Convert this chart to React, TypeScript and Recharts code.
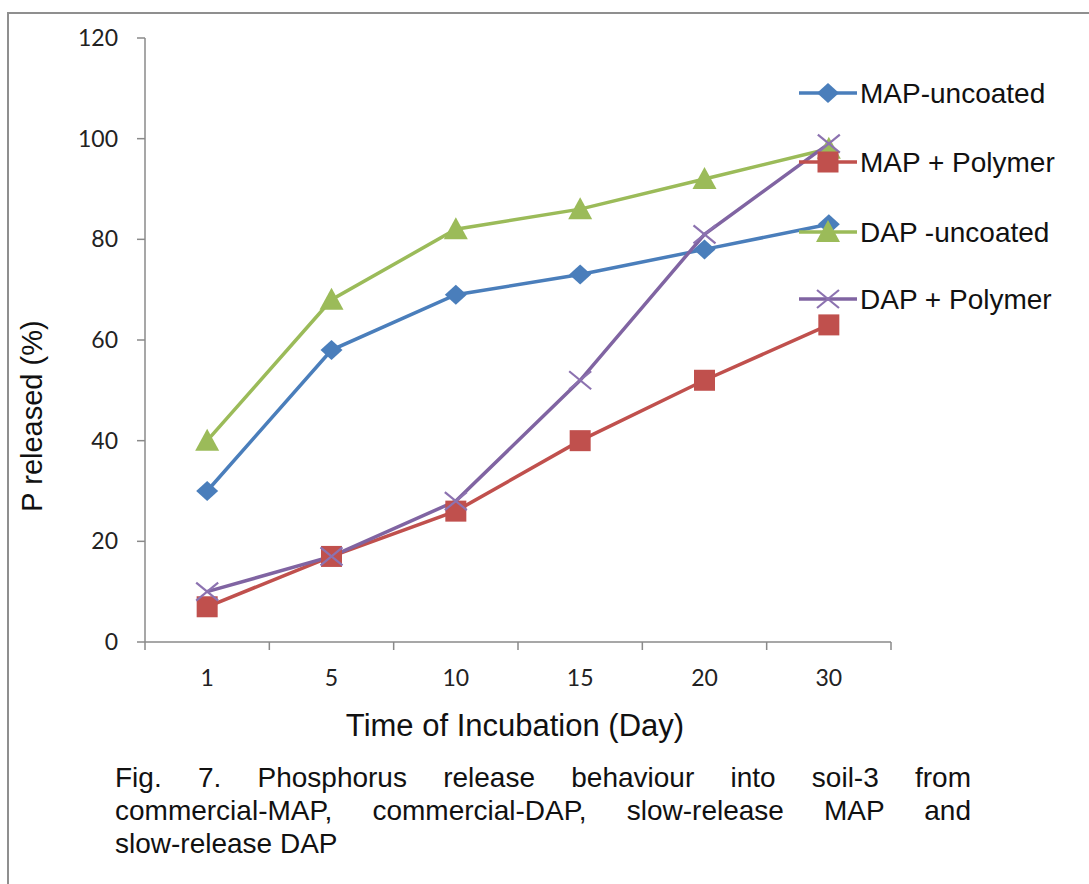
import React from 'react';
import { LineChart, Line, XAxis, YAxis } from 'recharts';

// ---- data ----
const days = ['1', '5', '10', '15', '20', '30'];
const mapUncoated = [30, 58, 69, 73, 78, 83];
const mapPolymer = [7, 17, 26, 40, 52, 63];
const dapUncoated = [40, 68, 82, 86, 92, 98];
const dapPolymer = [10, 17, 28, 52, 81, 99];
const yTicks = [0, 20, 40, 60, 80, 100, 120];
const seriesNames = ['MAP-uncoated', 'MAP + Polymer', 'DAP -uncoated', 'DAP + Polymer'];
const xTitle = 'Time of Incubation (Day)';
const yTitle = 'P released (%)';
const captionLines = [
  'Fig. 7. Phosphorus release behaviour into soil-3 from',
  'commercial-MAP, commercial-DAP, slow-release MAP and',
  'slow-release DAP',
];

const data = days.map((d, i) => ({
  day: d,
  mapU: mapUncoated[i],
  mapP: mapPolymer[i],
  dapU: dapUncoated[i],
  dapP: dapPolymer[i],
}));

type Shape = 'diamond' | 'square' | 'triangle' | 'x';
const series: { key: string; name: string; color: string; marker: Shape; markerColor: string }[] = [
  { key: 'mapU', name: seriesNames[0], color: '#4A7EBB', marker: 'diamond', markerColor: '#4A7EBB' },
  { key: 'mapP', name: seriesNames[1], color: '#C0504D', marker: 'square', markerColor: '#C0504D' },
  { key: 'dapU', name: seriesNames[2], color: '#9BBB59', marker: 'triangle', markerColor: '#9BBB59' },
  { key: 'dapP', name: seriesNames[3], color: '#8064A2', marker: 'x', markerColor: '#8C72B0' },
];

// ---- layout ----
const W = 1089;
const H = 884;
const M = { top: 38, right: 198, left: 85, bottom: 212 };
const Y_AXIS_W = 60;
const PLOT_W = W - M.left - M.right - Y_AXIS_W;
const AXIS = '#8a8a8a';
const SANS = "'Liberation Sans', Arial, sans-serif";
const TICKFONT = "Lato, 'Open Sans', sans-serif";

function Marker({ shape, cx, cy, color }: { shape: Shape; cx: number; cy: number; color: string }) {
  if (cx == null || cy == null || isNaN(cx) || isNaN(cy)) return <g />;
  switch (shape) {
    case 'diamond':
      return <polygon points={`${cx},${cy - 10} ${cx + 11},${cy} ${cx},${cy + 10} ${cx - 11},${cy}`} fill={color} />;
    case 'square':
      return <rect x={cx - 10.5} y={cy - 10.5} width={21} height={21} fill={color} />;
    case 'triangle':
      return <polygon points={`${cx},${cy - 12} ${cx + 12},${cy + 10} ${cx - 12},${cy + 10}`} fill={color} />;
    default:
      return (
        <g stroke={color} strokeWidth={2.2}>
          <line x1={cx - 11} y1={cy - 9} x2={cx + 11} y2={cy + 9} />
          <line x1={cx - 11} y1={cy + 9} x2={cx + 11} y2={cy - 9} />
        </g>
      );
  }
}

function renderXTick(props: any) {
  const { x, y, payload, index } = props;
  const half = payload && payload.offset > 0 ? payload.offset : PLOT_W / days.length / 2;
  const isLast = index === days.length - 1;
  return (
    <g>
      <line x1={x - half} y1={y} x2={x - half} y2={y + 8} stroke={AXIS} strokeWidth={1.5} />
      {isLast && <line x1={x + half} y1={y} x2={x + half} y2={y + 8} stroke={AXIS} strokeWidth={1.5} />}
      <text x={x} y={y + 44} textAnchor="middle" fontSize={23} fontFamily={TICKFONT} fill="#222">
        {payload.value}
      </text>
    </g>
  );
}

function XTitle(props: any) {
  const vb = props.viewBox || { x: 145, y: 642, width: 746, height: 30 };
  return (
    <text x={vb.x + vb.width / 2 - 3} y={vb.y + 94} textAnchor="middle" fontSize={31} fontFamily={SANS} fill="#111">
      {xTitle}
    </text>
  );
}

function YTitle(props: any) {
  const vb = props.viewBox || { x: 85, y: 38, width: 60, height: 604 };
  const cx = vb.x - 43;
  const cy = vb.y + vb.height / 2 + 76;
  return (
    <text
      x={cx}
      y={cy}
      transform={`rotate(-90 ${cx} ${cy})`}
      textAnchor="middle"
      fontSize={29}
      fontFamily={SANS}
      fill="#111"
    >
      {yTitle}
    </text>
  );
}

const legendRows = [93, 162, 232, 299];

export default function App() {
  return (
    <div style={{ position: 'absolute', left: 0, top: 0, width: W, height: H, background: '#fff', overflow: 'hidden' }}>
      <div
        style={{
          position: 'absolute',
          left: 7,
          top: 12,
          width: W,
          height: H,
          borderTop: '2px solid #8f8f8f',
          borderLeft: '2px solid #8f8f8f',
        }}
      />
      <div style={{ position: 'absolute', left: 0, top: 0 }}>
        <LineChart width={W} height={H} data={data} margin={M}>
          <XAxis
            dataKey="day"
            type="category"
            scale="band"
            height={30}
            interval={0}
            tickLine={false}
            tickSize={0}
            tickMargin={0}
            axisLine={{ stroke: AXIS, strokeWidth: 1.5 }}
            tick={renderXTick}
            label={{ content: XTitle }}
          />
          <YAxis
            width={Y_AXIS_W}
            domain={[0, 120]}
            ticks={yTicks}
            interval={0}
            tickSize={8}
            tickMargin={19}
            axisLine={{ stroke: AXIS, strokeWidth: 1.5 }}
            tickLine={{ stroke: AXIS, strokeWidth: 1.5 }}
            tick={{ fill: '#222', fontSize: 23, fontFamily: TICKFONT }}
            label={{ content: YTitle }}
          />
          {series.map((s) => (
            <Line
              key={s.key}
              dataKey={s.key}
              name={s.name}
              stroke={s.color}
              strokeWidth={3.5}
              isAnimationActive={false}
              activeDot={false}
              dot={(p: any) => (
                <g key={`${s.key}-${p.index}`}>
                  <Marker shape={s.marker} cx={p.cx} cy={p.cy} color={s.markerColor} />
                </g>
              )}
            />
          ))}
        </LineChart>
      </div>
      <svg
        width={W}
        height={H}
        style={{ position: 'absolute', left: 0, top: 0, pointerEvents: 'none' }}
      >
        {series.map((s, i) => (
          <g key={s.key}>
            <line x1={799} y1={legendRows[i]} x2={857} y2={legendRows[i]} stroke={s.color} strokeWidth={3.5} />
            <Marker shape={s.marker} cx={828} cy={legendRows[i]} color={s.markerColor} />
            <text x={860} y={legendRows[i] + 10} fontSize={28} fontFamily={SANS} fill="#111">
              {s.name}
            </text>
          </g>
        ))}
      </svg>
      <div
        style={{
          position: 'absolute',
          left: 115,
          top: 761,
          width: 856,
          fontFamily: SANS,
          fontSize: 28,
          lineHeight: '33px',
          color: '#111',
        }}
      >
        {captionLines.map((line, i) => (
          <div
            key={i}
            style={{
              textAlign: i < captionLines.length - 1 ? 'justify' : 'left',
              textAlignLast: i < captionLines.length - 1 ? 'justify' : 'left',
              whiteSpace: 'normal',
            }}
          >
            {line}
          </div>
        ))}
      </div>
    </div>
  );
}
